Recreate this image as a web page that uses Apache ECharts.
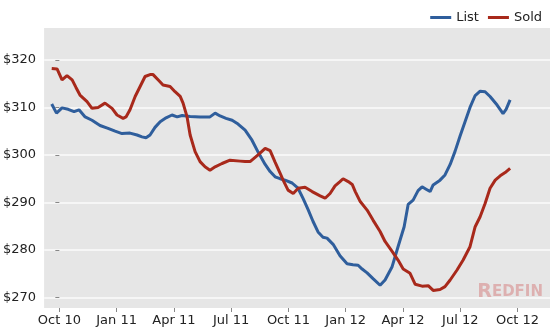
<!DOCTYPE html>
<html><head><meta charset="utf-8">
<script src="https://cdn.jsdelivr.net/npm/echarts@6/dist/echarts.min.js"></script>
<style>html,body{margin:0;padding:0;background:#fff}#c{width:550px;height:330px}</style>
</head><body><div id="c"></div>
<script>
// x values are months since Oct 2010
const tickMonths = [0, 3, 6, 9, 12, 15, 18, 21, 24];
const tickLabels = ['Oct 10', 'Jan 11', 'Apr 11', 'Jul 11', 'Oct 11', 'Jan 12', 'Apr 12', 'Jul 12', 'Oct 12'];
const yTicks = [270, 280, 290, 300, 310, 320];

const listMonths = [-0.40,-0.15,0.14,0.46,0.77,1.03,1.35,1.71,2.13,2.55,2.92,3.28,3.70,4.07,4.33,4.54,4.75,5.01,5.28,5.59,5.90,6.17,6.43,6.85,7.37,7.89,8.16,8.42,8.73,9.05,9.36,9.73,10.09,10.41,10.78,11.04,11.30,11.56,11.82,12.19,12.50,12.77,13.03,13.29,13.55,13.81,14.02,14.34,14.70,15.07,15.38,15.65,15.86,16.12,16.43,16.80,17.06,17.43,17.74,18.06,18.27,18.53,18.79,19.00,19.21,19.42,19.58,19.94,20.20,20.47,20.73,20.99,21.25,21.51,21.78,22.04,22.30,22.56,22.93,23.24,23.40,23.61];
const listValues = [310.7,308.8,309.9,309.6,309.1,309.5,308.0,307.3,306.2,305.6,305.0,304.5,304.6,304.2,303.8,303.6,304.2,305.8,307.0,307.8,308.4,308.0,308.3,308.1,308.0,308.0,308.8,308.2,307.7,307.3,306.5,305.2,303.1,300.6,298.0,296.5,295.4,295.0,294.7,294.1,293.0,290.8,288.5,286.0,283.8,282.7,282.5,281.2,278.8,277.1,276.9,276.8,276.0,275.2,274.0,272.6,273.7,276.5,280.7,284.9,289.6,290.5,292.5,293.3,292.8,292.3,293.7,294.7,295.8,298.0,300.8,304.0,307.0,310.0,312.5,313.4,313.3,312.3,310.5,308.7,309.6,311.6];

const soldMonths = [-0.40,-0.12,0.14,0.40,0.67,0.87,1.08,1.45,1.71,2.03,2.39,2.76,3.02,3.34,3.49,3.70,3.97,4.23,4.49,4.75,4.91,5.17,5.43,5.80,6.06,6.33,6.48,6.69,6.85,7.11,7.37,7.63,7.89,8.16,8.52,8.94,9.47,9.73,9.99,10.41,10.78,11.04,11.30,11.56,11.72,11.98,12.25,12.51,12.87,13.24,13.66,13.92,14.18,14.44,14.70,14.86,15.13,15.34,15.50,15.76,16.12,16.43,16.80,17.06,17.43,17.74,18.01,18.37,18.64,19.00,19.32,19.58,19.94,20.20,20.47,20.83,21.15,21.51,21.78,22.04,22.30,22.56,22.83,23.09,23.35,23.61];
const soldValues = [318.2,318.1,315.8,316.7,315.8,314.2,312.6,311.2,309.8,310.0,310.9,309.8,308.4,307.7,308.0,309.5,312.3,314.4,316.5,316.9,316.9,315.8,314.7,314.4,313.3,312.3,310.9,308.0,304.2,300.7,298.6,297.5,296.8,297.5,298.2,298.9,298.7,298.6,298.6,300.0,301.4,300.9,298.5,296.2,294.7,292.6,291.9,293.0,293.2,292.3,291.4,290.9,291.9,293.5,294.4,295.0,294.4,293.8,292.3,290.2,288.4,286.3,283.9,281.8,279.7,277.9,276.0,275.1,272.8,272.4,272.5,271.5,271.7,272.3,273.7,275.8,277.9,280.7,284.9,287.0,289.8,293.0,294.7,295.6,296.3,297.2];

const zip = (xs, ys) => xs.map((x, i) => [x, ys[i]]);
const font = 'DejaVu Sans';

const chart = echarts.init(document.getElementById('c'), null, {renderer: 'canvas'});
chart.setOption({
  animation: false,
  backgroundColor: '#ffffff',
  grid: {left: 44, right: 0, top: 28, bottom: 22, show: true, backgroundColor: '#e6e6e6', borderWidth: 0},
  legend: {
    right: 3, top: 6, icon: 'rect', itemWidth: 21, itemHeight: 3, itemGap: 9,
    textStyle: {fontFamily: font, fontSize: 13, color: '#222', padding: [0, 0, 0, 0]},
    data: ['List', 'Sold']
  },
  xAxis: {
    type: 'value', min: -0.80, max: 25.70,
    axisLine: {show: false},
    axisTick: {show: true, length: 4, lineStyle: {color: '#888'}, customValues: tickMonths},
    axisLabel: {
      customValues: tickMonths, margin: 6, fontFamily: font, fontSize: 13, color: '#222',
      formatter: v => tickLabels[tickMonths.indexOf(Math.round(v))] || ''
    },
    splitLine: {show: false}
  },
  yAxis: {
    type: 'value', min: 267.81, max: 326.70,
    axisLine: {show: false},
    axisTick: {show: true, length: 4, lineStyle: {color: '#888'}, customValues: yTicks},
    axisLabel: {customValues: yTicks, margin: 8, fontFamily: font, fontSize: 13, color: '#222', formatter: v => '$' + v},
    splitLine: {show: true, lineStyle: {color: '#f6f6f6', width: 2}}
  },
  graphic: [{
    type: 'text', right: 7, bottom: 28, z: 1,
    style: {
      text: '{a|R}{b|EDFIN}',
      rich: {
        a: {fontFamily: font, fontWeight: 'bold', fontSize: 19, fill: '#ddb0b0'},
        b: {fontFamily: font, fontWeight: 'bold', fontSize: 15, fill: '#ddb0b0'}
      }
    }
  }],
  series: [
    {name: 'List', type: 'line', data: zip(listMonths, listValues), showSymbol: false, symbol: 'none',
     lineStyle: {color: '#2f5e9c', width: 3}, itemStyle: {color: '#2f5e9c'}, z: 3},
    {name: 'Sold', type: 'line', data: zip(soldMonths, soldValues), showSymbol: false, symbol: 'none',
     lineStyle: {color: '#a8291b', width: 3}, itemStyle: {color: '#a8291b'}, z: 3}
  ]
});
</script>
</body></html>
